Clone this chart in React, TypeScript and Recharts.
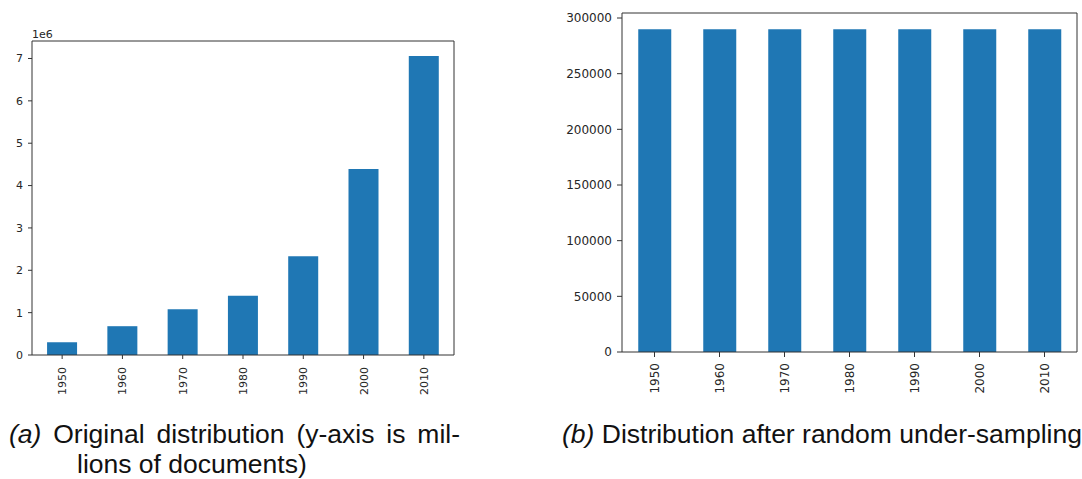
import React from 'react';
import { BarChart, Bar, XAxis, YAxis } from 'recharts';

const YEARS = ['1950', '1960', '1970', '1980', '1990', '2000', '2010'];
const ORIGINAL_COUNTS = [300000, 680000, 1080000, 1400000, 2330000, 4390000, 7060000];
const SAMPLED_COUNTS = [290000, 290000, 290000, 290000, 290000, 290000, 290000];
const ORIGINAL_TICKS = [0, 1000000, 2000000, 3000000, 4000000, 5000000, 6000000, 7000000];
const SAMPLED_TICKS = [0, 50000, 100000, 150000, 200000, 250000, 300000];

const BLUE = '#1f77b4';
const INK = '#262626';
const TICK_FONT = '"DejaVu Sans", sans-serif';
const CAPTION_FONT = '"Liberation Sans", Arial, sans-serif';

const originalData = YEARS.map((year, i) => ({ year, count: ORIGINAL_COUNTS[i] }));
const sampledData = YEARS.map((year, i) => ({ year, count: SAMPLED_COUNTS[i] }));

// matplotlib style rotated year labels, centred on the tick
const RotatedTick = ({ x, y, payload, fontSize }: any) => (
  <text
    x={x}
    y={y}
    transform={`rotate(-90, ${x}, ${y})`}
    textAnchor="end"
    dy="0.36em"
    fill={INK}
    fontSize={fontSize}
    fontFamily={TICK_FONT}
  >
    {payload.value}
  </text>
);

const App: React.FC = () => {
  return (
    <div style={{ position: 'absolute', left: 0, top: 0, width: 1082, height: 479, background: '#fff' }}>
      {/* (a) original distribution */}
      <div style={{ position: 'absolute', left: 0, top: 0 }}>
        <BarChart
          width={470}
          height={400}
          data={originalData}
          margin={{ top: 40, right: 15, bottom: 0, left: 0 }}
          barCategoryGap="25%"
        >
          <XAxis
            dataKey="year"
            height={45}
            stroke="#333"
            tickSize={4}
            tickMargin={8}
            interval={0}
            tick={<RotatedTick fontSize={11} />}
          />
          {/* top and right spines */}
          <XAxis xAxisId="top" dataKey="year" orientation="top" height={1} tick={false} tickLine={false} stroke="#333" />
          <YAxis
            width={32}
            domain={[0, 7413000]}
            ticks={ORIGINAL_TICKS}
            tickFormatter={(v: number) => String(v / 1000000)}
            stroke="#333"
            tickSize={4}
            tickMargin={5}
            tick={{ fill: INK, fontSize: 11, fontFamily: TICK_FONT }}
          />
          <YAxis yAxisId="right" orientation="right" width={1} domain={[0, 7413000]} tick={false} tickLine={false} stroke="#333" />
          <Bar dataKey="count" fill={BLUE} isAnimationActive={false} />
        </BarChart>
      </div>
      <div style={{ position: 'absolute', left: 32, top: 28, fontSize: 11, fontFamily: TICK_FONT, color: INK, lineHeight: '13px' }}>
        1e6
      </div>

      {/* (b) after random under-sampling */}
      <div style={{ position: 'absolute', left: 560, top: 0 }}>
        <BarChart
          width={522}
          height={400}
          data={sampledData}
          margin={{ top: 12, right: 4, bottom: 0, left: 0 }}
          barCategoryGap="25%"
        >
          <XAxis
            dataKey="year"
            height={48}
            stroke="#333"
            tickSize={5}
            tickMargin={6}
            interval={0}
            tick={<RotatedTick fontSize={12} />}
          />
          <XAxis xAxisId="top" dataKey="year" orientation="top" height={1} tick={false} tickLine={false} stroke="#333" />
          <YAxis
            width={62}
            domain={[0, 304500]}
            ticks={SAMPLED_TICKS}
            stroke="#333"
            tickSize={5}
            tickMargin={5}
            tick={{ fill: INK, fontSize: 12, fontFamily: TICK_FONT }}
          />
          <YAxis yAxisId="right" orientation="right" width={1} domain={[0, 304500]} tick={false} tickLine={false} stroke="#333" />
          <Bar dataKey="count" fill={BLUE} isAnimationActive={false} />
        </BarChart>
      </div>

      {/* captions */}
      <div
        style={{
          position: 'absolute', left: 9, top: 419, width: 451,
          fontFamily: CAPTION_FONT, fontSize: 26.5, lineHeight: '30px', color: '#111',
          textAlign: 'justify', textAlignLast: 'justify', whiteSpace: 'nowrap',
        }}
      >
        <i>(a)</i> Original distribution (y-axis is mil-
      </div>
      <div style={{ position: 'absolute', left: 77, top: 449, fontFamily: CAPTION_FONT, fontSize: 26.5, lineHeight: '30px', color: '#111', whiteSpace: 'nowrap' }}>
        lions of documents)
      </div>
      <div style={{ position: 'absolute', left: 562, top: 419, fontFamily: CAPTION_FONT, fontSize: 26.5, lineHeight: '30px', color: '#111', whiteSpace: 'nowrap' }}>
        <i>(b)</i> Distribution after random under-sampling
      </div>
    </div>
  );
};

export default App;
